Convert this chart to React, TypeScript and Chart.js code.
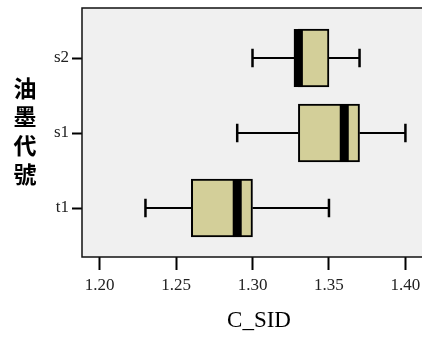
import React, { useEffect, useRef } from 'react';
import { Chart, registerables } from 'chart.js';

Chart.register(...registerables);

const categories = ['s2', 's1', 't1'];
const whiskerLow = [1.3, 1.29, 1.23];
const q1 = [1.33, 1.33, 1.26];
const median = [1.33, 1.36, 1.29];
const q3 = [1.35, 1.37, 1.3];
const whiskerHigh = [1.37, 1.4, 1.35];
const xTicks = [1.2, 1.25, 1.3, 1.35, 1.4];
const xTitle = 'C_SID';
const yTitle = '油墨代號';

export default function App() {
  const ref = useRef<HTMLCanvasElement>(null);

  useEffect(() => {
    if (!ref.current) return;

    const boxPlugin = {
      id: 'boxExtras',
      beforeDraw(chart: any) {
        const { ctx, chartArea: a } = chart;
        ctx.save();
        ctx.fillStyle = '#f0f0f0';
        ctx.fillRect(a.left, a.top, a.right - a.left, a.bottom - a.top);
        ctx.restore();
      },
      beforeDatasetsDraw(chart: any) {
        const { ctx } = chart;
        const xs = chart.scales.x;
        const ys = chart.scales.y;
        const meta = chart.getDatasetMeta(0);
        ctx.save();
        ctx.strokeStyle = '#000';
        categories.forEach((_, i) => {
          const y = ys.getPixelForValue(i);
          const xl = xs.getPixelForValue(whiskerLow[i]);
          const x1 = xs.getPixelForValue(q1[i]);
          const x3 = xs.getPixelForValue(q3[i]);
          const xh = xs.getPixelForValue(whiskerHigh[i]);
          const capH = ((meta.data[i] as any).height || 58) * 0.16;
          ctx.lineWidth = 2;
          ctx.beginPath();
          ctx.moveTo(xl, y);
          ctx.lineTo(x1, y);
          ctx.moveTo(x3, y);
          ctx.lineTo(xh, y);
          ctx.stroke();
          ctx.lineWidth = 2.5;
          ctx.beginPath();
          ctx.moveTo(xl, y - capH);
          ctx.lineTo(xl, y + capH);
          ctx.moveTo(xh, y - capH);
          ctx.lineTo(xh, y + capH);
          ctx.stroke();
        });
        ctx.restore();
      },
      afterDatasetsDraw(chart: any) {
        const { ctx } = chart;
        const xs = chart.scales.x;
        const ys = chart.scales.y;
        const meta = chart.getDatasetMeta(0);
        ctx.save();
        ctx.fillStyle = '#000';
        categories.forEach((_, i) => {
          const y = ys.getPixelForValue(i);
          const h = (meta.data[i] as any).height || 58;
          const xm = xs.getPixelForValue(median[i]);
          ctx.fillRect(xm - 4.5, y - h / 2, 9, h);
        });
        ctx.restore();
      },
      afterDraw(chart: any) {
        const { ctx, chartArea: a } = chart;
        ctx.save();
        ctx.strokeStyle = '#111';
        ctx.lineWidth = 1.5;
        ctx.beginPath();
        ctx.moveTo(chart.width + 10, a.top);
        ctx.lineTo(a.left, a.top);
        ctx.lineTo(a.left, a.bottom);
        ctx.lineTo(chart.width + 10, a.bottom);
        ctx.stroke();
        // vertical y-axis title, one character per line
        ctx.fillStyle = '#000';
        ctx.font = 'bold 23px "Noto Sans CJK TC"';
        ctx.textAlign = 'center';
        ctx.textBaseline = 'middle';
        const chars = Array.from(yTitle);
        const step = 28.7;
        const mid = (a.top + a.bottom) / 2 - 1.5;
        chars.forEach((ch, k) => {
          ctx.fillText(ch, 25, mid + (k - (chars.length - 1) / 2) * step);
        });
        ctx.restore();
      },
    };

    const chart = new Chart(ref.current, {
      type: 'bar',
      data: {
        datasets: [
          {
            data: categories.map((_, i) => ({ x: [q1[i], q3[i]], y: i })) as any,
            backgroundColor: '#d3cf99',
            borderColor: '#000',
            borderWidth: 2,
            borderSkipped: false,
            barThickness: 58,
          },
        ],
      },
      options: {
        indexAxis: 'y',
        animation: false,
        responsive: false,
        layout: { padding: { top: 8, left: 0, right: 4, bottom: 0 } },
        plugins: {
          legend: { display: false },
          tooltip: { enabled: false },
        },
        scales: {
          x: {
            type: 'linear',
            min: 1.1885,
            max: 1.42,
            afterBuildTicks: (s: any) => {
              s.ticks = xTicks.map((v) => ({ value: v }));
            },
            afterFit: (s: any) => {
              s.height = 83;
              s.paddingLeft = 0;
              s.paddingRight = 0;
              s.paddingTop = 0;
              s.paddingBottom = 0;
            },
            border: { display: false },
            grid: {
              drawOnChartArea: false,
              drawTicks: true,
              tickLength: 13,
              tickColor: '#000',
              tickWidth: 2,
            },
            ticks: {
              padding: 5,
              color: '#222',
              font: { family: '"Liberation Serif"', size: 17 },
              callback: (v: any) => Number(v).toFixed(2),
              maxRotation: 0,
            },
            title: {
              display: true,
              text: xTitle,
              color: '#000',
              font: { family: '"Liberation Serif"', size: 23 },
              padding: { top: 0, bottom: 5 },
            },
          },
          y: {
            type: 'linear',
            reverse: true,
            offset: false,
            min: -0.667,
            max: 2.653,
            afterBuildTicks: (s: any) => {
              s.ticks = categories.map((_, i) => ({ value: i }));
            },
            afterFit: (s: any) => {
              s.width = 82;
              s.paddingTop = 0;
              s.paddingBottom = 0;
              s.paddingLeft = 0;
              s.paddingRight = 0;
            },
            border: { display: false },
            grid: {
              offset: false,
              drawOnChartArea: false,
              drawTicks: true,
              tickLength: 10,
              tickColor: '#000',
              tickWidth: 2,
            },
            ticks: {
              padding: 3,
              color: '#222',
              font: { family: '"Liberation Serif"', size: 17 },
              callback: (v: any) => categories[Number(v)] ?? '',
            },
          },
        },
      },
      plugins: [boxPlugin],
    } as any);

    return () => chart.destroy();
  }, []);

  return (
    <div
      style={{
        position: 'absolute',
        left: 0,
        top: 0,
        width: 422,
        height: 340,
        overflow: 'hidden',
        background: '#fff',
      }}
    >
      <canvas ref={ref} width={440} height={340} style={{ display: 'block', width: 440, height: 340 }} />
    </div>
  );
}
